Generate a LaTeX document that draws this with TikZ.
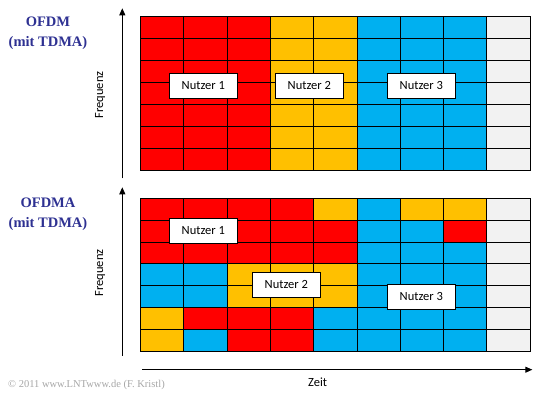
\documentclass[tikz,border=0pt]{standalone}
\usepackage{fontspec}
\setmainfont{Liberation Serif}
\newfontfamily\calibri{Carlito}
\usetikzlibrary{positioning,calc,arrows.meta}

\definecolor{nred}{RGB}{255,0,0}
\definecolor{nyellow}{RGB}{255,192,0}
\definecolor{nblue}{RGB}{0,176,240}
\definecolor{nfree}{RGB}{242,242,242}
\definecolor{titleblue}{RGB}{46,49,146}

\tikzset{
  cell/.style={draw=black, line width=0.9pt},
  userbox/.style={draw=black, fill=white, line width=0.9pt, minimum width=68pt, minimum height=25pt, inner sep=0pt, font=\calibri\fontsize{12.5}{14}\selectfont},
  axis/.style={line width=0.9pt, -{Triangle[length=7pt,width=6pt]}},
  axislabel/.style={font=\calibri\fontsize{12.5}{14}\selectfont},
  title/.style={align=center, text=titleblue, font=\bfseries\fontsize{14.5}{20}\selectfont}
}

\begin{document}
\begin{tikzpicture}[x=1pt, y=-1pt]
    \useasboundingbox (0,0) rectangle (554,396);

    % Titles
    \node[title] (ofdm) at (48,33) {OFDM\\(mit TDMA)};
    \node[title] (ofdma) at (48,214) {OFDMA\\(mit TDMA)};

    % OFDM grid (upper)
    \foreach \r/\cols in {0/{nred,nred,nred,nyellow,nyellow,nblue,nblue,nblue,nfree},
                          1/{nred,nred,nred,nyellow,nyellow,nblue,nblue,nblue,nfree},
                          2/{nred,nred,nred,nyellow,nyellow,nblue,nblue,nblue,nfree},
                          3/{nred,nred,nred,nyellow,nyellow,nblue,nblue,nblue,nfree},
                          4/{nred,nred,nred,nyellow,nyellow,nblue,nblue,nblue,nfree},
                          5/{nred,nred,nred,nyellow,nyellow,nblue,nblue,nblue,nfree},
                          6/{nred,nred,nred,nyellow,nyellow,nblue,nblue,nblue,nfree}} {
      \foreach \clr [count=\c from 0] in \cols
        \draw[cell, fill=\clr] (\c*43.33+140.3, \r*22+16.3) rectangle ++(43.33,22);
    }

    % OFDMA grid (lower)
    \foreach \r/\cols in {0/{nred,nred,nred,nred,nyellow,nblue,nyellow,nyellow,nfree},
                          1/{nred,nred,nred,nred,nred,nblue,nblue,nred,nfree},
                          2/{nred,nred,nred,nred,nred,nblue,nblue,nblue,nfree},
                          3/{nblue,nblue,nyellow,nyellow,nyellow,nblue,nblue,nblue,nfree},
                          4/{nblue,nblue,nyellow,nyellow,nyellow,nblue,nblue,nblue,nfree},
                          5/{nyellow,nred,nred,nred,nblue,nblue,nblue,nblue,nfree},
                          6/{nyellow,nblue,nred,nred,nblue,nblue,nblue,nblue,nfree}} {
      \foreach \clr [count=\c from 0] in \cols
        \draw[cell, fill=\clr] (\c*43.33+140.3, \r*21.86+198.3) rectangle ++(43.33,21.86);
    }

    % User labels
    \node[userbox] (user1a) at (203.3,85.8) {Nutzer 1};
    \node[userbox] (user2a) at (309.3,85.8) {Nutzer 2};
    \node[userbox] (user3a) at (421.3,85.8) {Nutzer 3};

    \node[userbox] (user1b) at (203.3,230.8) {Nutzer 1};
    \node[userbox] (user2b) at (286.3,284.8) {Nutzer 2};
    \node[userbox] (user3b) at (421.3,296.8) {Nutzer 3};

    % Axes
    \coordinate (freq1s) at (122.3,178.3);
    \coordinate (freq1e) at (122.3,8.3);
    \coordinate (freq2s) at (122.3,355.7);
    \coordinate (freq2e) at (122.3,187.3);
    \coordinate (times) at (142.3,369.7);
    \coordinate (timee) at (532.3,369.7);
    \draw[axis] (freq1s) -- (freq1e);
    \draw[axis] (freq2s) -- (freq2e);
    \draw[axis] (times) -- (timee);

    \node[axislabel, rotate=90] (freq1) at (100,95) {Frequenz};
    \node[axislabel, rotate=90] (freq2) at (100,273) {Frequenz};
    \node[axislabel] (zeit) at (317.7,382) {Zeit};

    % Copyright
    \node[anchor=west, inner sep=0pt, text=gray!70, font=\fontsize{10.5}{12}\selectfont] (copy) at (8,385) {\textcopyright\ 2011 www.LNTwww.de (F. Kristl)};
\end{tikzpicture}
\end{document}
